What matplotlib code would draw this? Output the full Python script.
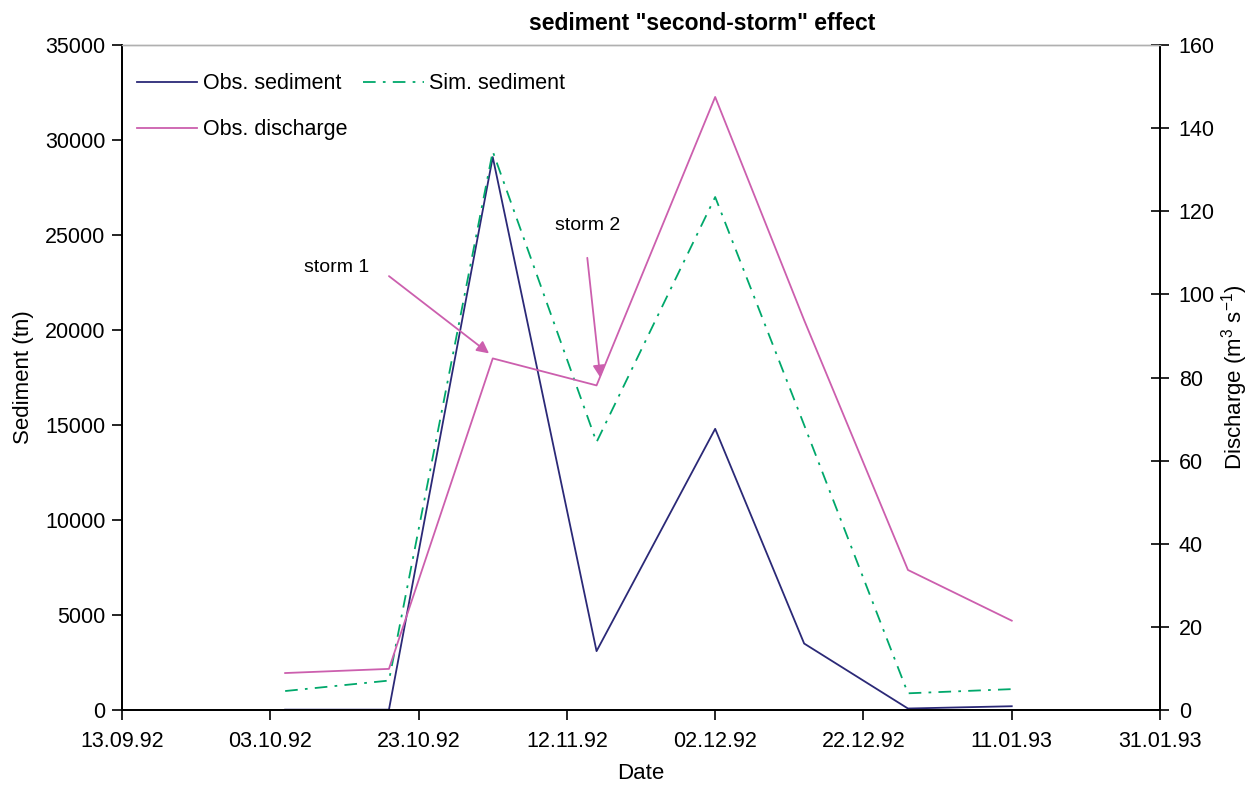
import matplotlib
matplotlib.use("Agg")
from matplotlib import pyplot as plt
import matplotlib.dates as mdates
import pandas as pd

plt.rcParams['font.family'] = ['Liberation Sans', 'DejaVu Sans']
plt.rcParams['mathtext.default'] = 'regular'

# data
dates = pd.to_datetime(['1992-10-05', '1992-10-19', '1992-11-02', '1992-11-16',
                        '1992-12-02', '1992-12-14', '1992-12-28', '1993-01-11'])
obs_sed = [20, 20, 29100, 3100, 14800, 3500, 80, 200]
sim_sed = [1000, 1550, 29400, 14100, 27000, 15000, 880, 1100]
obs_q = [8.9, 9.9, 84.6, 78.1, 147.5, 93.8, 33.7, 21.5]
xticks = pd.date_range('1992-09-13', '1993-01-31', freq='20D')

c_obs = '#2b2977'
c_sim = '#00a86b'
c_q = '#cc5fae'

fig = plt.figure(figsize=(12.53, 7.87), dpi=100)
ax = fig.add_axes([0.0974, 0.0978, 0.8284, 0.845])
ax2 = ax.twinx()

l1, = ax.plot(dates, obs_sed, color=c_obs, lw=1.3, label='Obs. sediment')
l2, = ax.plot(dates, sim_sed, color=c_sim, lw=1.3, ls=(0, (7, 4, 1.5, 4)),
              label='Sim. sediment')
l3, = ax2.plot(dates, obs_q, color=c_q, lw=1.3, label='Obs. discharge')

ax.set_xlim(xticks[0], xticks[-1])
ax.set_xticks(xticks)
ax.xaxis.set_major_formatter(mdates.DateFormatter('%d.%m.%y'))
ax.set_ylim(0, 35000)
ax.set_yticks(range(0, 35001, 5000))
ax2.set_ylim(0, 160)
ax2.set_yticks(range(0, 161, 20))

ax.tick_params(axis='both', labelsize=15.5, direction='out', length=7, width=1.2, pad=5)
ax.tick_params(axis='x', pad=8)
ax2.tick_params(axis='y', labelsize=15.5, direction='inout', length=13, width=1.2, pad=7)

for a in (ax, ax2):
    a.spines['top'].set_color('#b0b0b0')
    a.spines['top'].set_linewidth(1.0)
    for s in ('left', 'right', 'bottom'):
        a.spines[s].set_linewidth(1.3)

ax.set_xlabel('Date', fontsize=16, labelpad=8)
ax.set_ylabel('Sediment (tn)', fontsize=16, labelpad=8)
ax2.set_ylabel('Discharge (m$^3$ s$^{-1}$)', fontsize=16, labelpad=3)

fig.text(702 / 1253, 1 - 24 / 787, 'sediment "second-storm" effect', fontsize=16.5,
         fontweight='bold', ha='center', va='center')

ax.legend([l1, l3, l2], ['Obs. sediment', 'Obs. discharge', 'Sim. sediment'],
          ncol=2, loc='upper left', frameon=False, fontsize=15.5,
          handlelength=2.8, columnspacing=0.75, labelspacing=1.15,
          bbox_to_anchor=(0.0, 0.98), borderaxespad=0.3, handletextpad=0.25)

arrow = dict(arrowstyle='-|>', color=c_q, lw=1.3, mutation_scale=18,
             shrinkA=0, shrinkB=0)
ax2.annotate('', xy=(pd.Timestamp('1992-11-01 12:00'), 85.8),
             xytext=(pd.Timestamp('1992-10-19'), 104.4), arrowprops=arrow)
ax2.text(pd.Timestamp('1992-10-12'), 106.5, 'storm 1', fontsize=14,
         ha='center', va='center')
ax2.annotate('', xy=(pd.Timestamp('1992-11-16 12:00'), 80.0),
             xytext=(pd.Timestamp('1992-11-14 18:00'), 108.8), arrowprops=arrow)
ax2.text(pd.Timestamp('1992-11-14 18:00'), 116.5, 'storm 2', fontsize=14,
         ha='center', va='center')

fig.savefig('out.png', dpi=100)
